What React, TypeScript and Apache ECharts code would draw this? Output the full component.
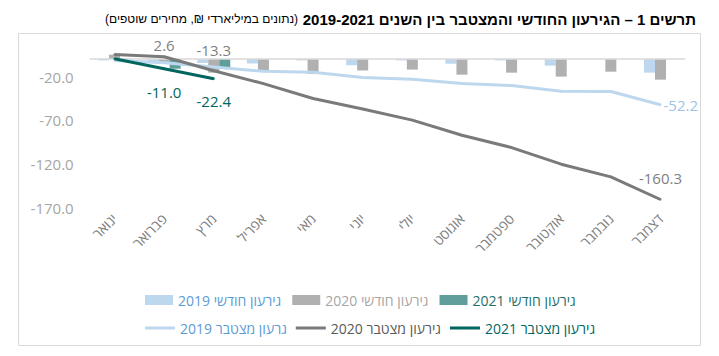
import React, { useEffect, useRef } from "react";
import * as echarts from "echarts";

const FONT = "'Open Sans', 'DejaVu Sans', sans-serif";

const months = ["ינואר", "פברואר", "מרץ", "אפריל", "מאי", "יוני", "יולי", "אוגוסט", "ספטמבר", "אוקטובר", "נובמבר", "דצמבר"];

const monthly2019 = [-1.5, -2.6, -4.5, -5.0, -1.5, -7.0, -1.5, -5.3, -1.5, -7.5, -0.3, -15.5];
const monthly2020 = [5.0, -3.8, -15.5, -13.5, -17.0, -13.0, -12.0, -17.8, -15.5, -20.0, -14.4, -23.5];
const monthly2021 = [0.3, -11.0, -9.5];

const cumul2019 = [-1.5, -4.2, -9.0, -14.0, -15.0, -21.0, -23.0, -28.0, -30.2, -36.8, -37.0, -52.2];
const cumul2020 = [5.2, 2.6, -13.3, -28.0, -45.0, -57.0, -69.7, -87.0, -101.0, -120.0, -134.5, -160.3];
const cumul2021 = [0.3, -11.0, -22.4];

const yTicks = [-170, -120, -70, -20];

const names = {
  m19: "גירעון חודשי 2019",
  m20: "גירעון חודשי 2020",
  m21: "גירעון חודשי 2021",
  c19: "גרעון מצטבר 2019",
  c20: "גירעון מצטבר 2020",
  c21: "גירעון מצטבר 2021",
};

const titleMain = "תרשים 1 – הגירעון החודשי והמצטבר בין השנים 2019-2021";
const titleSub = "(נתונים במיליארדי ₪, מחירים שוטפים)";

const RLE = "\u202B";
const PDF = "\u202C";

function labelled(values: number[], cfg: Record<number, any>) {
  return values.map((v, i) =>
    cfg[i] ? { value: v, label: { show: true, ...cfg[i] } } : { value: v }
  );
}

export default function App() {
  const ref = useRef<HTMLDivElement>(null);
  useEffect(() => {
    const chart = echarts.init(ref.current!, null, { renderer: "svg" });
    const lblFont = { fontFamily: FONT, fontSize: 15, formatter: (p: any) => Number(p.value).toFixed(1) };
    const option: any = {
      animation: false,
      textStyle: { fontFamily: FONT },
      title: {
        text: `{r|${RLE}${titleSub}${PDF}} {b|${RLE}${titleMain}${PDF}}`,
        right: 18,
        top: 5,
        textStyle: {
          fontWeight: "normal",
          rich: {
            b: { fontSize: 15, fontWeight: "bold", color: "#000", fontFamily: "'Liberation Sans', Arial, sans-serif" },
            r: { fontSize: 12, fontWeight: "normal", color: "#000", fontFamily: "'Liberation Sans', Arial, sans-serif" },
          },
        },
      },
      graphic: [
        {
          type: "rect",
          shape: { x: 18.5, y: 33.5, width: 682, height: 312 },
          style: { fill: "none", stroke: "#d9d9d9", lineWidth: 1 },
          silent: true,
        },
      ],
      legend: [
        {
          left: 140,
          top: 288,
          itemWidth: 28,
          itemHeight: 10,
          itemGap: 11,
          icon: "rect",
          formatter: (n: string) => RLE + n + PDF,
          textStyle: { fontSize: 14, fontFamily: FONT },
          data: [
            { name: names.m19, textStyle: { color: "#5b9bd5" } },
            { name: names.m20, textStyle: { color: "#a6a6a6" } },
            { name: names.m21, textStyle: { color: "#1f6f6a" } },
          ],
        },
        {
          left: 140,
          top: 316,
          itemWidth: 30,
          itemHeight: 3,
          itemGap: 9,
          icon: "rect",
          formatter: (n: string) => RLE + n + PDF,
          textStyle: { fontSize: 14, fontFamily: FONT },
          data: [
            { name: names.c19, textStyle: { color: "#5b9bd5" } },
            { name: names.c20, textStyle: { color: "#595959" } },
            { name: names.c21, textStyle: { color: "#00665e" } },
          ],
        },
      ],
      grid: { left: 89.7, right: 33.7, top: 32.8, bottom: 148 },
      xAxis: {
        type: "category",
        data: months,
        boundaryGap: true,
        axisLine: { show: false },
        axisTick: { show: false },
        axisLabel: { rotate: 45, margin: 8, color: "#7f7f7f", fontSize: 14, fontFamily: FONT, interval: 0 },
      },
      yAxis: {
        type: "value",
        min: -170,
        max: 30,
        splitLine: { show: false },
        axisLine: { show: false },
        axisTick: { show: false },
        axisLabel: {
          customValues: yTicks,
          formatter: (v: number) => v.toFixed(1),
          color: "#a6a6a6",
          fontSize: 15,
          margin: 16,
          fontFamily: FONT,
        },
      },
      series: [
        {
          name: names.m19,
          type: "bar",
          data: monthly2019,
          barWidth: 11,
          barGap: "0%",
          itemStyle: { color: "#bdd7ee" },
          markLine: {
            silent: true,
            symbol: "none",
            label: { show: false },
            lineStyle: { color: "#d9d9d9", width: 1.5, type: "solid" },
            data: [{ yAxis: 0 }],
          },
        },
        { name: names.m20, type: "bar", data: monthly2020, barWidth: 11, barGap: "0%", itemStyle: { color: "#b0b0b0" } },
        { name: names.m21, type: "bar", data: monthly2021, barWidth: 11, barGap: "0%", itemStyle: { color: "#5f9e9b" } },
        {
          name: names.c19,
          type: "line",
          data: labelled(cumul2019, {
            11: { position: "right", distance: 2, color: "#9dc3e6", ...lblFont },
          }),
          symbol: "circle",
          symbolSize: 2,
          itemStyle: { color: "#bdd7ee" },
          lineStyle: { color: "#bdd7ee", width: 3 },
          z: 5,
        },
        {
          name: names.c20,
          type: "line",
          data: labelled(cumul2020, {
            1: { position: "top", distance: 3, color: "#7f7f7f", ...lblFont },
            2: { position: "top", distance: 12, color: "#7f7f7f", ...lblFont },
            11: { position: "top", distance: 13, color: "#7f7f7f", ...lblFont },
          }),
          symbol: "circle",
          symbolSize: 2,
          itemStyle: { color: "#7a7a7a" },
          lineStyle: { color: "#7a7a7a", width: 3 },
          z: 6,
        },
        {
          name: names.c21,
          type: "line",
          data: labelled(cumul2021, {
            1: { position: "bottom", distance: 15, color: "#00665e", ...lblFont },
            2: { position: "bottom", distance: 14, color: "#00665e", ...lblFont },
          }),
          symbol: "circle",
          symbolSize: 2,
          itemStyle: { color: "#00665e" },
          lineStyle: { color: "#00665e", width: 3 },
          z: 7,
        },
      ],
    };
    chart.setOption(option);
    return () => chart.dispose();
  }, []);
  return <div ref={ref} style={{ position: "absolute", left: 0, top: 0, width: 719, height: 356 }} />;
}
